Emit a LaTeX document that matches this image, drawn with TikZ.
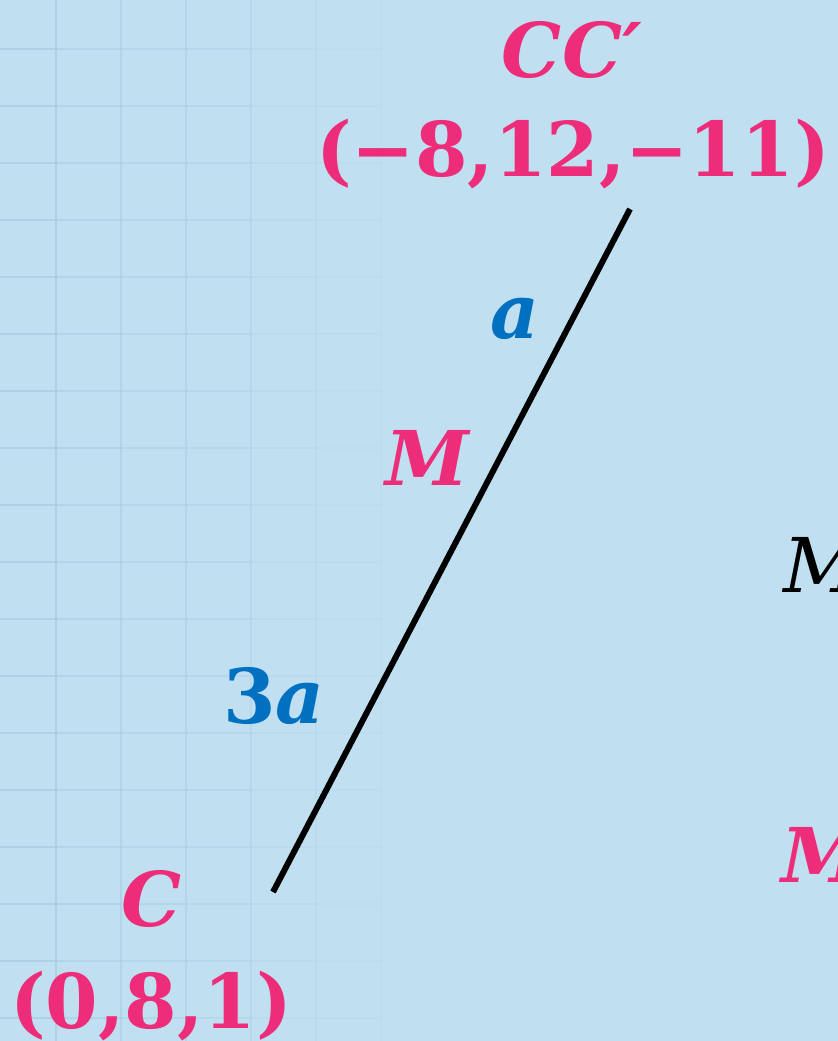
\documentclass[tikz,border=0pt]{standalone}
\usepackage{fontspec}
\setmainfont{DejaVu Serif}
\usepackage{tikz}
\definecolor{bgblue}{HTML}{C0E0F1}
\definecolor{gridblue}{HTML}{A6CDE4}
\definecolor{ptpink}{HTML}{EE2D7A}
\definecolor{lenblue}{HTML}{0070C0}

\begin{document}
\begin{tikzpicture}[x=0.02cm, y=-0.02cm,
        lbl/.style={inner sep=0, anchor=base, font=\fontsize{43}{50}\selectfont\bfseries},
        gridln/.style={gridblue, line width=1.1pt}]
                \fill[bgblue] (0,0) rectangle (838,1041);
                \useasboundingbox (0,0) rectangle (838,1041);
                \foreach \i in {0,...,6}{
                    \pgfmathsetmacro\op{0.7-0.11*\i}
                    \draw[gridln, opacity=\op] ({56+65*\i},0) -- ({56+65*\i},1041);
                    \foreach \j in {0,...,17}
                        \draw[gridln, opacity=\op] ({-9+65*\i},{49+57*\j}) -- ({56+65*\i},{49+57*\j});
                }
                \coordinate (C) at (273,892);
                \coordinate (CC) at (630,209);
                \draw[black, line width=3.4pt] (C) -- (CC);
                \node[lbl, ptpink] (lCC) at (572,77) {\itshape CC′};
                \node[lbl, ptpink] (xyzCC) at (573,176) {(−8,12,−11)};
                \node[lbl, lenblue] (la) at (515,338) {\itshape a};
                \node[lbl, ptpink] (lM) at (427,485) {\itshape M};
                \node[lbl, lenblue] (l3a) at (274,723) {3\textit{a}};
                \node[lbl, ptpink] (lC) at (152,926) {\itshape C};
                \node[lbl, ptpink] (xyzC) at (151,1028) {(0,8,1)};
                \node[lbl, anchor=base west, font=\fontsize{43}{50}\selectfont\itshape] (rM) at (783,592) {M};
                \node[lbl, ptpink, anchor=base west] (rMp) at (781,882) {\itshape M};
\end{tikzpicture}
\end{document}
